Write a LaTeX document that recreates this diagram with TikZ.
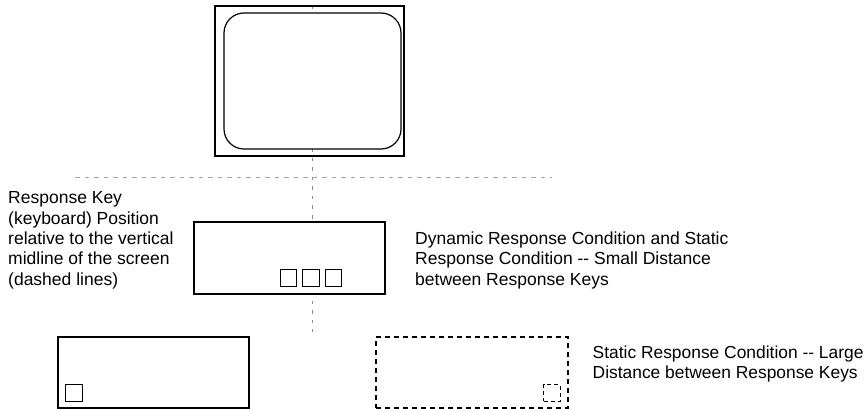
\documentclass[tikz,border=0pt]{standalone}
\usepackage{fontspec}
\setmainfont{Liberation Sans}
\begin{document}
\begin{tikzpicture}[x=1pt,y=-1pt,
  frame/.style={draw=black,line width=1.2pt,fill=white,inner sep=0pt,minimum width=191pt,minimum height=72pt},
  keybox/.style={draw=black,line width=1.1pt,inner sep=0pt,minimum size=16.5pt},
  guide/.style={draw=black!45,line width=0.8pt,dash pattern=on 3.5pt off 6pt},
  hguide/.style={draw=black!35,line width=0.8pt,dash pattern=on 4.5pt off 5pt},
  label/.style={font=\fontsize{17.5}{20.3}\selectfont,align=left,inner sep=0pt,anchor=base west}]
\useasboundingbox (0,0) rectangle (868,409);
% midlines
\coordinate (vtop) at (312,6);
\coordinate (vbot) at (312,332);
\coordinate (hl) at (75,177);
\coordinate (hr) at (552,177);
\draw[guide] (vtop) -- (vbot);
\draw[hguide] (hl) -- (hr);
% monitor
\node[draw=black,line width=1.2pt,inner sep=0pt,minimum width=189pt,minimum height=150pt] (monitor) at (309.5,81) {};
\node[draw=black,line width=1.2pt,fill=white,rounded corners=20pt,inner sep=0pt,minimum width=177pt,minimum height=136pt] (screen) at (312.5,81) {};
% keyboards
\node[frame] (kbmid) at (289.5,258) {};
\node[keybox] (k1) at (288.5,278) {};
\node[keybox] (k2) at (311,278) {};
\node[keybox] (k3) at (333.5,278) {};
\node[frame,minimum height=71pt] (kbleft) at (153.5,372.5) {};
\node[keybox] (kl) at (74,393) {};
\node[frame,minimum height=71pt,minimum width=192pt,dash pattern=on 5pt off 4pt] (kbright) at (472,372.5) {};
\node[keybox,dash pattern=on 4pt off 3pt] (kr) at (552,393) {};
% labels (anchored at the baseline of the last line)
\node[label] (ltext) at (8,285) {Response Key\\(keyboard) Position\\relative to the vertical\\midline of the screen\\(dashed lines)};
\node[label] (mtext) at (415,285) {Dynamic Response Condition and Static\\Response Condition -{}- Small Distance\\between Response Keys};
\node[label,font=\fontsize{17.4}{20}\selectfont] (rtext) at (592.5,378.5) {Static Response Condition -{}- Large\\Distance between Response Keys};
\end{tikzpicture}
\end{document}
